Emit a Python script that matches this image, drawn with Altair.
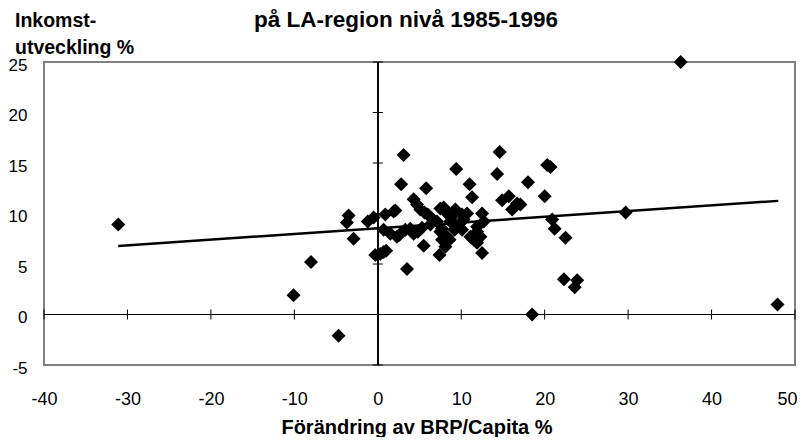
import altair as alt
import pandas as pd

# --- data ---
brp = [-31.1, -10.1, -8.0, -4.7, -3.5, -3.7, -2.9, -1.2, -0.5, -0.3,
       0.3, 0.7, 1.0, 0.9, 1.9, 2.1, 0.7, 1.5, 2.3, 2.6,
       3.3, 3.9, 4.3, 4.8, 3.1, 2.8, 3.5, 5.5, 5.8, 4.3,
       4.7, 5.1, 5.6, 6.0, 6.5, 7.1, 7.5, 7.9, 8.3, 8.7,
       9.3, 9.0, 9.7, 10.1, 10.7, 10.3, 7.5, 8.3, 7.7, 8.1,
       7.4, 8.6, 9.2, 10.1, 11.1, 11.5, 11.9, 11.9, 12.3, 12.5,
       12.5, 12.7, 9.4, 11.0, 11.3, 14.6, 14.3, 14.9, 15.7, 16.1,
       16.7, 17.1, 18.0, 20.3, 20.7, 20.0, 20.9, 21.2, 22.5, 22.3,
       23.9, 23.6, 18.5, 29.7, 36.3, 47.9, 9.1, 7.7, 11.9, 6.3,
       5.3]
inkomst = [8.9, 1.9, 5.2, -2.1, 9.8, 9.1, 7.5, 9.2, 9.6, 5.9,
           6.0, 6.2, 6.3, 9.9, 10.2, 10.3, 8.4, 8.0, 7.7, 7.9,
           8.4, 8.5, 8.0, 8.2, 15.8, 12.9, 4.5, 6.8, 12.5, 11.4,
           10.9, 10.4, 10.1, 9.9, 9.5, 9.2, 10.5, 10.6, 10.0, 9.2,
           10.4, 9.8, 8.9, 9.9, 10.0, 9.4, 8.2, 7.7, 7.4, 6.7,
           5.9, 7.4, 8.4, 8.4, 7.7, 7.4, 7.1, 8.2, 7.7, 6.1,
           10.0, 9.2, 14.4, 12.9, 11.6, 16.1, 13.9, 11.3, 11.7, 10.4,
           11.0, 10.9, 13.1, 14.8, 14.6, 11.7, 9.4, 8.5, 7.6, 3.5,
           3.4, 2.7, 0.0, 10.1, 25.0, 1.0, 9.0, 8.5, 8.7, 8.9,
           8.6]
trend_x = [-31.1, 48.0]
trend_y = [6.79, 11.25]
x_ticks = [-40, -30, -20, -10, 0, 10, 20, 30, 40, 50]
y_ticks = [-5, 0, 5, 10, 15, 20, 25]

title_text = "på LA-region nivå 1985-1996"
y_title_lines = ["Inkomst-", "utveckling %"]
x_title_text = "Förändring av BRP/Capita %"

FONT = "Liberation Sans"

pts = pd.DataFrame({"x": brp, "y": inkomst})
trend = pd.DataFrame({"x": trend_x, "y": trend_y})
xt = pd.DataFrame({"x": x_ticks})
yt = pd.DataFrame({"y": y_ticks})

xscale = alt.Scale(domain=[-40, 50], nice=False, zero=False)
yscale = alt.Scale(domain=[-5, 25], nice=False, zero=False)
xax = alt.Axis(values=x_ticks, domain=False, ticks=False, grid=False, title=None,
               labelFont=FONT, labelFontSize=18, labelColor="black",
               labelPadding=25, labelFlush=False, labelExpr="'' + datum.value",
               labelAlign={"condition": {"test": "datum.value == 50", "value": "right"},
                           "value": "center"},
               labelOffset={"condition": {"test": "datum.value == 50", "value": 2},
                            "value": 0})
yax = alt.Axis(values=y_ticks, domain=False, ticks=False, grid=False, title=None,
               labelFont=FONT, labelFontSize=17, labelColor="black",
               labelPadding=17, labelOffset=3, labelFlush=False,
               labelExpr="'' + datum.value")

X = lambda: alt.X("x:Q", scale=xscale, axis=xax)
Y = lambda: alt.Y("y:Q", scale=yscale, axis=yax)

points = alt.Chart(pts).mark_point(shape="diamond", filled=True, size=196,
                                   color="black", opacity=1).encode(x=X(), y=Y())

line = alt.Chart(trend).mark_line(color="black", strokeWidth=2.5).encode(x=X(), y=Y())

zero_v = alt.Chart(xt).mark_rule(color="black", strokeWidth=1).encode(
    x=alt.XDatum(0, scale=xscale, axis=xax))
zero_h = alt.Chart(yt).mark_rule(color="black", strokeWidth=1).encode(
    y=alt.YDatum(0, scale=yscale, axis=yax))

xticks_m = alt.Chart(xt).mark_tick(orient="vertical", size=10, thickness=1,
                                   color="black", opacity=1).encode(
    x=X(), y=alt.YDatum(0, scale=yscale, axis=yax))
yticks_m = alt.Chart(yt).mark_tick(orient="horizontal", size=10, thickness=1,
                                   color="black", opacity=1).encode(
    y=Y(), x=alt.XDatum(0, scale=xscale, axis=xax))

def label(text, px, py, size, align="left"):
    return alt.Chart(pd.DataFrame({"t": [text]})).mark_text(
        font=FONT, fontSize=size, fontWeight="bold", color="black",
        align=align, baseline="alphabetic").encode(
        text="t:N", x=alt.value(px), y=alt.value(py))

title = label(title_text, 362, -35, 22.5, "center")
yt1 = label(y_title_lines[0], -29, -35, 19.5)
yt2 = label(y_title_lines[1], -29, -8, 19.5)
xtitle = label(x_title_text, 373, 372, 20, "center")

chart = alt.layer(zero_v, zero_h, xticks_m, yticks_m, line, points,
                  title, yt1, yt2, xtitle).properties(
    width=751, height=303,
    autosize=alt.AutoSizeParams(type="none"),
    padding={"left": 36, "top": 54, "right": 2, "bottom": 72},
    background="white",
).configure_view(stroke="#808080", strokeWidth=2)

chart.save("out.html", embed_options={"renderer": "svg", "actions": False})
